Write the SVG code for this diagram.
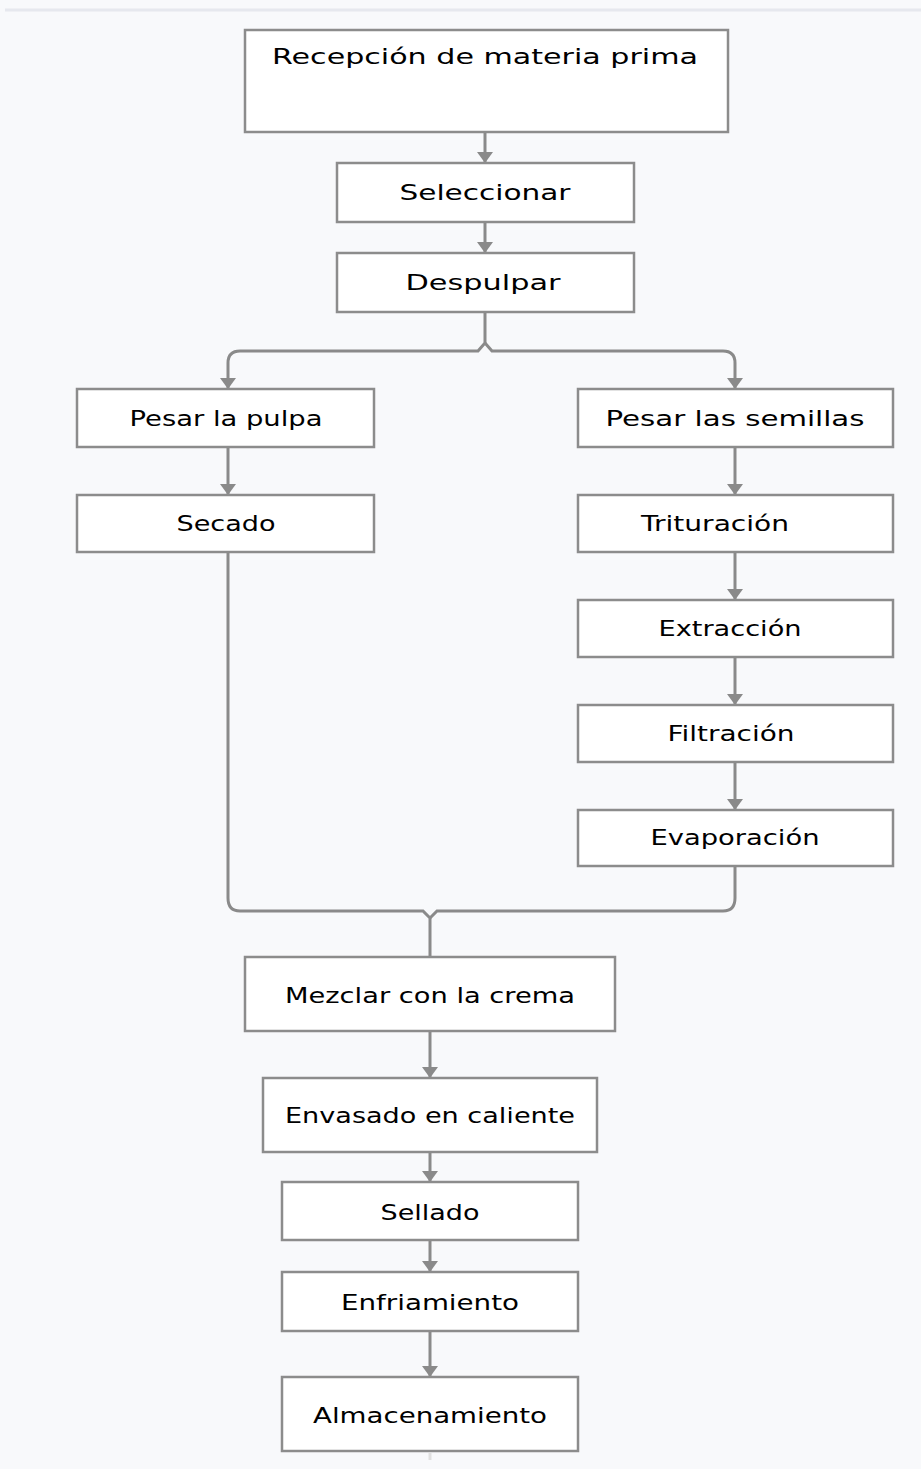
<svg xmlns="http://www.w3.org/2000/svg" width="921" height="1469" viewBox="0 0 921 1469">
<defs>
<style>
.bg{fill:#f8f9fb}
.n rect{fill:#ffffff;stroke:#8c8c8c;stroke-width:2.5}
.n text{font-family:"DejaVu Sans",Verdana,sans-serif;font-size:22px;fill:#000;text-anchor:middle}
.c path{fill:none;stroke:#8a8a8a;stroke-width:3}
</style>
<marker id="ah" markerWidth="11" markerHeight="16" refX="11" refY="8" orient="auto" markerUnits="userSpaceOnUse" viewBox="0 0 11 16">
<path d="M0,0 L11,8 L0,16 Z" fill="#8a8a8a"/>
</marker>
</defs>
<rect class="bg" x="0" y="0" width="921" height="1469"/>
<line x1="5" y1="10" x2="921" y2="10" stroke="#e6e8ee" stroke-width="3"/>
<g class="c">
<path d="M485,132 V163" marker-end="url(#ah)"/>
<path d="M485,222 V253" marker-end="url(#ah)"/>
<path d="M485,312 V343 L478,351 H240 Q228,351 228,363 V389" marker-end="url(#ah)"/>
<path d="M485,343 L492,351 H723 Q735,351 735,363 V389" marker-end="url(#ah)"/>
<path d="M228,447 V495" marker-end="url(#ah)"/>
<path d="M735,447 V495" marker-end="url(#ah)"/>
<path d="M735,552 V600" marker-end="url(#ah)"/>
<path d="M735,657 V705" marker-end="url(#ah)"/>
<path d="M735,762 V810" marker-end="url(#ah)"/>
<path d="M228,552 V898 Q228,911 240,911 H423 L430,918 V957"/>
<path d="M735,866 V898 Q735,911 723,911 H437 L430,918"/>
<path d="M430,1031 V1078" marker-end="url(#ah)"/>
<path d="M430,1152 V1182" marker-end="url(#ah)"/>
<path d="M430,1240 V1272" marker-end="url(#ah)"/>
<path d="M430,1331 V1377" marker-end="url(#ah)"/>
<path d="M430,1453 V1460" style="stroke:#e0e0e0"/>
</g>
<g id="n1" class="n"><rect x="245" y="30" width="483" height="102"/><text x="485" y="64" textLength="426" lengthAdjust="spacingAndGlyphs">Recepción de materia prima</text></g>
<g id="n2" class="n"><rect x="337" y="163" width="297" height="59"/><text x="485" y="200" textLength="171" lengthAdjust="spacingAndGlyphs">Seleccionar</text></g>
<g id="n3" class="n"><rect x="337" y="253" width="297" height="59"/><text x="483" y="290" textLength="155" lengthAdjust="spacingAndGlyphs">Despulpar</text></g>
<g id="n4" class="n"><rect x="77" y="389" width="297" height="58"/><text x="226" y="426" textLength="193" lengthAdjust="spacingAndGlyphs">Pesar la pulpa</text></g>
<g id="n5" class="n"><rect x="578" y="389" width="315" height="58"/><text x="735" y="426" textLength="259" lengthAdjust="spacingAndGlyphs">Pesar las semillas</text></g>
<g id="n6" class="n"><rect x="77" y="495" width="297" height="57"/><text x="226" y="531" textLength="99" lengthAdjust="spacingAndGlyphs">Secado</text></g>
<g id="n7" class="n"><rect x="578" y="495" width="315" height="57"/><text x="715" y="531" textLength="148" lengthAdjust="spacingAndGlyphs">Trituración</text></g>
<g id="n8" class="n"><rect x="578" y="600" width="315" height="57"/><text x="730" y="636" textLength="143" lengthAdjust="spacingAndGlyphs">Extracción</text></g>
<g id="n9" class="n"><rect x="578" y="705" width="315" height="57"/><text x="731" y="741" textLength="127" lengthAdjust="spacingAndGlyphs">Filtración</text></g>
<g id="n10" class="n"><rect x="578" y="810" width="315" height="56"/><text x="735" y="845" textLength="169" lengthAdjust="spacingAndGlyphs">Evaporación</text></g>
<g id="n11" class="n"><rect x="245" y="957" width="370" height="74"/><text x="430" y="1003" textLength="290" lengthAdjust="spacingAndGlyphs">Mezclar con la crema</text></g>
<g id="n12" class="n"><rect x="263" y="1078" width="334" height="74"/><text x="430" y="1123" textLength="290" lengthAdjust="spacingAndGlyphs">Envasado en caliente</text></g>
<g id="n13" class="n"><rect x="282" y="1182" width="296" height="58"/><text x="430" y="1220" textLength="99" lengthAdjust="spacingAndGlyphs">Sellado</text></g>
<g id="n14" class="n"><rect x="282" y="1272" width="296" height="59"/><text x="430" y="1310" textLength="178" lengthAdjust="spacingAndGlyphs">Enfriamiento</text></g>
<g id="n15" class="n"><rect x="282" y="1377" width="296" height="74"/><text x="430" y="1423" textLength="234" lengthAdjust="spacingAndGlyphs">Almacenamiento</text></g>
</svg>
